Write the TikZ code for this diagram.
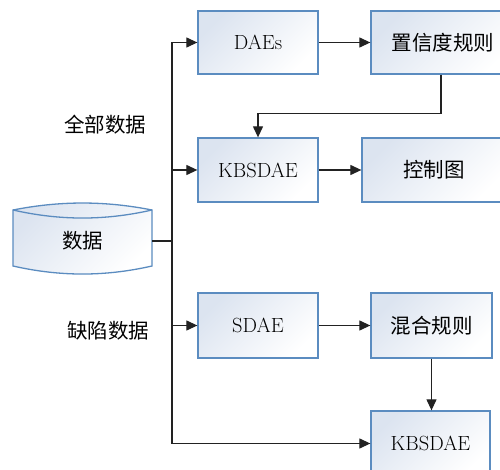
\documentclass[tikz,border=0pt]{standalone}
\usepackage{fontspec}
\newfontfamily\cjk{Noto Sans CJK SC}
\usetikzlibrary{arrows.meta,calc}
\definecolor{boxborder}{HTML}{5B8CC0}
\definecolor{boxfill}{HTML}{DCE4F0}
\definecolor{linec}{HTML}{222222}
\begin{document}
\begin{tikzpicture}[x=1pt,y=-1pt,
  every node/.style={font=\fontsize{20.5}{24}\selectfont, text=black},
  blk/.style={draw=boxborder, line width=1.3pt, shading=axis, top color=boxfill, bottom color=white, shading angle=45, minimum height=63pt, inner sep=0pt},
  conn/.style={draw=linec, line width=1.2pt, -{Triangle[length=11pt,width=10pt]}},
  plain/.style={draw=linec, line width=1.2pt}]
\useasboundingbox (0,0) rectangle (500,470);
\clip (0,0) rectangle (500,470);
% cylinder
\path[draw=boxborder, line width=1.3pt, shading=axis, top color=boxfill, bottom color=white, shading angle=45]
  (13,210) -- (13,266) .. controls (60,276.7) and (105,276.7) .. (152,266) -- (152,210)
  .. controls (105,200.7) and (60,200.7) .. (13,210) -- cycle;
\draw[boxborder, line width=1.3pt] (13,210) .. controls (60,220.7) and (105,220.7) .. (152,210);
\node[minimum width=139pt, minimum height=50pt, inner sep=0pt] (db) at (82.5,241) {\cjk 数据};
% boxes
\node[blk, minimum width=120pt] (daes) at (258,42.5) {DAEs};
\node[blk, minimum width=144pt] (conf) at (443,42.5) {\cjk 置信度规则};
\node[blk, minimum width=120pt, minimum height=64pt] (kb1) at (258,170) {KBSDAE};
\node[blk, minimum width=144pt, minimum height=64pt] (ctrl) at (434,170) {\cjk 控制图};
\node[blk, minimum width=120pt, minimum height=65pt] (sdae) at (258,325.5) {SDAE};
\node[blk, minimum width=121pt, minimum height=65pt] (mix) at (431.5,325.5) {\cjk 混合规则};
\node[blk, minimum width=119pt, minimum height=65pt] (kb2) at (430.5,443.5) {KBSDAE};
% labels
\node (lall) at (105,125) {\cjk 全部数据};
\node (ldef) at (108,331) {\cjk 缺陷数据};
% connectors
\coordinate (j) at (172,241);
\draw[plain] (db.east) -- (j);
\draw[conn] (j) |- (daes.west);
\draw[conn] (j) |- (kb1.west);
\draw[conn] (j) |- (sdae.west);
\draw[conn] (j) |- (kb2.west);
\draw[conn] (daes) -- (conf);
\draw[conn] ([xshift=-2pt]conf.south) -- ++(0,39) -| (kb1.north);
\draw[conn] (kb1) -- (ctrl);
\draw[conn] (sdae) -- (mix);
\draw[conn] (mix.south) -- (mix.south |- kb2.north);
\end{tikzpicture}
\end{document}
